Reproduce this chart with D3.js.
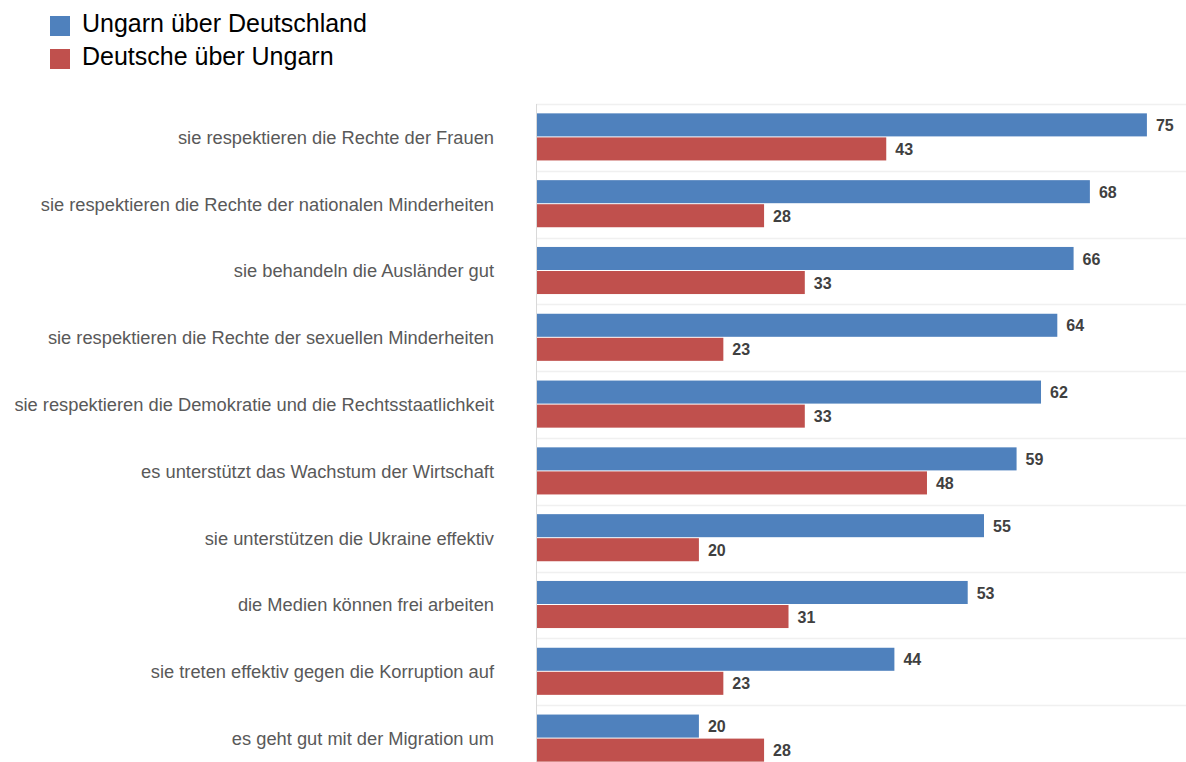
<!DOCTYPE html>
<html>
<head>
<meta charset="utf-8">
<script src="https://cdn.jsdelivr.net/npm/d3@7"></script>
<style>
  body { margin: 0; background: #fff; }
  svg { display: block; font-family: "Liberation Sans", Arial, sans-serif; }
</style>
</head>
<body>
<div id="chart"></div>
<script>
// categories, top to bottom
var categories = [
  "sie respektieren die Rechte der Frauen",
  "sie respektieren die Rechte der nationalen Minderheiten",
  "sie behandeln die Ausländer gut",
  "sie respektieren die Rechte der sexuellen Minderheiten",
  "sie respektieren die Demokratie und die Rechtsstaatlichkeit",
  "es unterstützt das Wachstum der Wirtschaft",
  "sie unterstützen die Ukraine effektiv",
  "die Medien können frei arbeiten",
  "sie treten effektiv gegen die Korruption auf",
  "es geht gut mit der Migration um"
];
var seriesNames = ["Ungarn über Deutschland", "Deutsche über Ungarn"];
var ungarnUeberDeutschland = [75, 68, 66, 64, 62, 59, 55, 53, 44, 20];
var deutscheUeberUngarn = [43, 28, 33, 23, 33, 48, 20, 31, 23, 28];
var colors = ["#4F81BD", "#C0504D"];

var width = 1186, height = 762;
var plotLeft = 536, plotRight = 1186, plotTop = 104, rowStep = 66.8;

var svg = d3.select("#chart").append("svg")
  .attr("width", width)
  .attr("height", height);

// build rows
var rows = categories.map(function(c, i) {
  return { cat: c, values: [ungarnUeberDeutschland[i], deutscheUeberUngarn[i]] };
});

var x = d3.scaleLinear().domain([0, 79.8]).range([plotLeft, plotRight]);
var y = d3.scaleBand()
  .domain(categories)
  .range([plotTop, plotTop + rowStep * categories.length])
  .paddingInner(0.28)
  .paddingOuter(0.14);
var y1 = d3.scaleBand().domain([0, 1]).range([0, y.bandwidth()]);

// light gridlines between categories
var bounds = categories.map(function(c) { return y(c) - y.step() * y.paddingInner() / 2; });
svg.append("g").selectAll("line")
  .data(bounds)
  .enter().append("line")
  .attr("x1", plotLeft).attr("x2", plotRight)
  .attr("y1", function(d) { return Math.round(d) + 0.5; })
  .attr("y2", function(d) { return Math.round(d) + 0.5; })
  .attr("stroke", "#f0f0f0")
  .attr("stroke-width", 1.5);

// vertical axis line
svg.append("line")
  .attr("x1", plotLeft + 0.5).attr("x2", plotLeft + 0.5)
  .attr("y1", bounds[0]).attr("y2", height)
  .attr("stroke", "#d9d9d9");

// category labels
svg.append("g").selectAll("text")
  .data(categories)
  .enter().append("text")
  .attr("x", 494)
  .attr("y", function(d) { return y(d) + y.bandwidth() / 2; })
  .attr("dy", "0.35em")
  .attr("text-anchor", "end")
  .attr("fill", "#595959")
  .style("font-size", "18.3px")
  .text(function(d) { return d; });

// bars
var groups = svg.append("g").selectAll("g")
  .data(rows)
  .enter().append("g")
  .attr("transform", function(d) { return "translate(0," + y(d.cat) + ")"; });

groups.selectAll("rect")
  .data(function(d) { return d.values; })
  .enter().append("rect")
  .attr("x", x(0) + 1)
  .attr("y", function(d, j) { return y1(j); })
  .attr("width", function(d) { return x(d) - x(0) - 1; })
  .attr("height", y1.bandwidth() - 1)
  .attr("fill", function(d, j) { return colors[j]; });

groups.selectAll("text")
  .data(function(d) { return d.values; })
  .enter().append("text")
  .attr("x", function(d) { return x(d) + 9; })
  .attr("y", function(d, j) { return y1(j) + y1.bandwidth() / 2; })
  .attr("dy", "0.35em")
  .attr("fill", "#404040")
  .style("font-size", "16px")
  .style("font-weight", "bold")
  .text(function(d) { return d; });

// legend
var legend = svg.append("g").selectAll("g")
  .data(seriesNames)
  .enter().append("g")
  .attr("transform", function(d, i) { return "translate(50," + (16 + i * 33) + ")"; });

legend.append("rect")
  .attr("width", 20).attr("height", 20)
  .attr("fill", function(d, i) { return colors[i]; });

legend.append("text")
  .attr("x", 32).attr("y", 7)
  .attr("dy", "0.35em")
  .attr("fill", "#000")
  .style("font-size", "25px")
  .text(function(d) { return d; });
</script>
</body>
</html>
